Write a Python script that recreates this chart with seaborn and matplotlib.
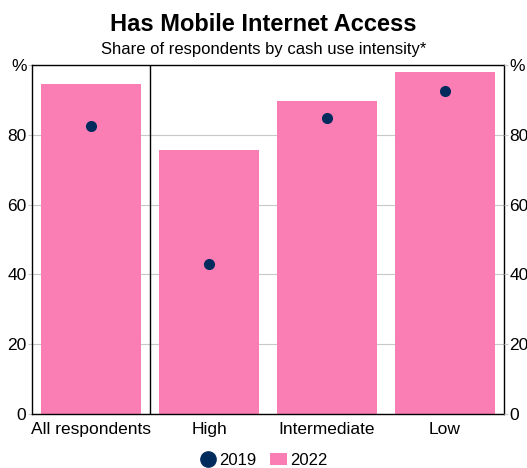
import pandas as pd
import matplotlib.pyplot as plt
import seaborn as sns
from matplotlib.lines import Line2D
from matplotlib.patches import Patch

# data
categories = ["All respondents", "High", "Intermediate", "Low"]
share_2022 = [94.6, 75.7, 89.7, 98.1]
share_2019 = [82.6, 43.0, 84.9, 92.6]

pink = "#FA7EB4"
navy = "#002B5C"

df = pd.DataFrame({"category": categories, "y2022": share_2022, "y2019": share_2019})

sns.set_style("white")
plt.rcParams["font.family"] = ["Liberation Sans", "DejaVu Sans"]
plt.rcParams["text.color"] = "black"
plt.rcParams["xtick.color"] = "black"
plt.rcParams["ytick.color"] = "black"
plt.rcParams["xtick.labelcolor"] = "black"
plt.rcParams["ytick.labelcolor"] = "black"

fig = plt.figure(figsize=(5.27, 4.68), dpi=100)
ax = fig.add_axes([0.0607, 0.1154, 0.8957, 0.7456])

sns.barplot(data=df, x="category", y="y2022", color=pink, width=0.84,
            saturation=1, ax=ax, zorder=2, edgecolor="none")
sns.stripplot(data=df, x="category", y="y2019", color=navy, jitter=False,
              size=8, ax=ax, zorder=3)

ax.set_xlim(-0.5, 3.5)
ax.set_ylim(0, 100)
ax.set_xlabel("")
ax.set_ylabel("")

yt = [0, 20, 40, 60, 80, 100]
ylab = ["0", "20", "40", "60", "80", "%"]
ax.set_yticks(yt)
ax.set_yticklabels(ylab)
ax.grid(axis="y", color="#c8c8c8", linewidth=0.8, zorder=0)
ax.set_axisbelow(True)

ax.tick_params(axis="x", length=0, labelsize=12.5, pad=6)
ax.tick_params(axis="y", length=3, color="#c8c8c8", labelsize=12.5, pad=1)
ax.set_xticks([0.5, 1.5, 2.5], minor=True)
ax.tick_params(axis="x", which="minor", direction="in", length=5, color="black", width=0.8)

ax.axvline(0.5, color="black", linewidth=1, zorder=4)

for s in ax.spines.values():
    s.set_color("black")
    s.set_linewidth(1)
    s.set_visible(True)

ax2 = ax.twinx()
ax2.set_ylim(0, 100)
ax2.set_yticks(yt)
ax2.set_yticklabels(ylab)
ax2.tick_params(axis="y", length=3, color="#c8c8c8", labelsize=12.5, pad=1)
for s in ax2.spines.values():
    s.set_visible(False)

fig.text(0.5, 0.947, "Has Mobile Internet Access", ha="center", va="center",
         fontsize=17, fontweight="bold")
fig.text(0.5, 0.894, "Share of respondents by cash use intensity*", ha="center",
         va="center", fontsize=12)

handles = [
    Line2D([0], [0], marker="o", color="none", markerfacecolor=navy,
           markeredgecolor=navy, markersize=11),
    Patch(facecolor=pink, edgecolor="none"),
]
fig.legend(handles, ["2019", "2022"], loc="center", bbox_to_anchor=(0.5, 0.017),
           ncol=2, frameon=False, fontsize=12, handlelength=1.0, handletextpad=0.2,
           columnspacing=0.8)

fig.savefig("out.png", dpi=100)
